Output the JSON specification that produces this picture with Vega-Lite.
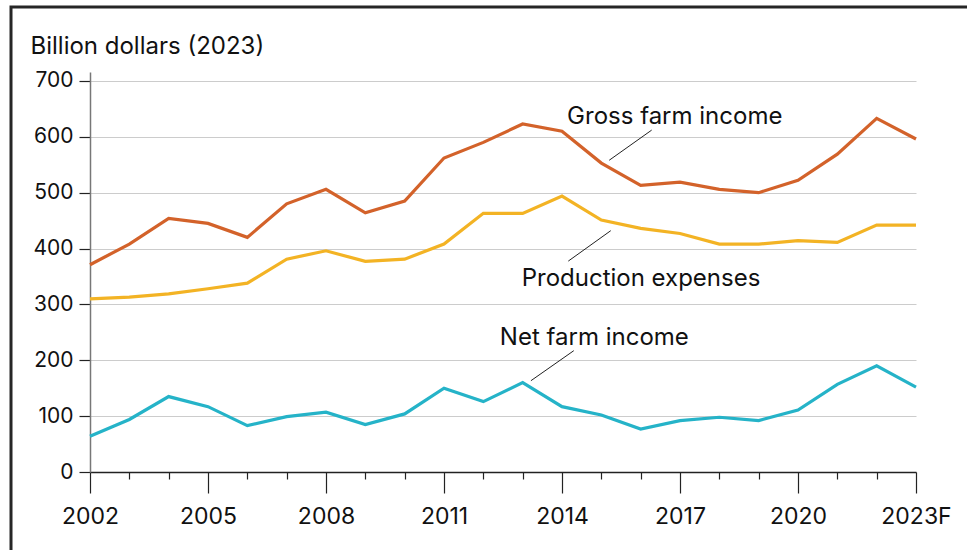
{
  "$schema": "https://vega.github.io/schema/vega-lite/v6.json",
  "width": 960,
  "height": 547,
  "autosize": {"type": "none"},
  "padding": {"left": 11, "top": 7, "right": -4, "bottom": -4},
  "background": "white",
  "config": {
    "view": {"stroke": "#262626", "strokeWidth": 3},
    "font": "Inter"
  },
  "datasets": {
    "series": [
      {"year": 2002, "series": "Gross farm income", "value": 371},
      {"year": 2003, "series": "Gross farm income", "value": 408},
      {"year": 2004, "series": "Gross farm income", "value": 454},
      {"year": 2005, "series": "Gross farm income", "value": 445},
      {"year": 2006, "series": "Gross farm income", "value": 420},
      {"year": 2007, "series": "Gross farm income", "value": 480},
      {"year": 2008, "series": "Gross farm income", "value": 506},
      {"year": 2009, "series": "Gross farm income", "value": 464},
      {"year": 2010, "series": "Gross farm income", "value": 485},
      {"year": 2011, "series": "Gross farm income", "value": 562},
      {"year": 2012, "series": "Gross farm income", "value": 590},
      {"year": 2013, "series": "Gross farm income", "value": 623},
      {"year": 2014, "series": "Gross farm income", "value": 610},
      {"year": 2015, "series": "Gross farm income", "value": 553},
      {"year": 2016, "series": "Gross farm income", "value": 513},
      {"year": 2017, "series": "Gross farm income", "value": 519},
      {"year": 2018, "series": "Gross farm income", "value": 506},
      {"year": 2019, "series": "Gross farm income", "value": 500},
      {"year": 2020, "series": "Gross farm income", "value": 522},
      {"year": 2021, "series": "Gross farm income", "value": 569},
      {"year": 2022, "series": "Gross farm income", "value": 633},
      {"year": 2023, "series": "Gross farm income", "value": 596},
      {"year": 2002, "series": "Production expenses", "value": 310},
      {"year": 2003, "series": "Production expenses", "value": 313},
      {"year": 2004, "series": "Production expenses", "value": 319},
      {"year": 2005, "series": "Production expenses", "value": 328},
      {"year": 2006, "series": "Production expenses", "value": 338},
      {"year": 2007, "series": "Production expenses", "value": 381},
      {"year": 2008, "series": "Production expenses", "value": 396},
      {"year": 2009, "series": "Production expenses", "value": 377},
      {"year": 2010, "series": "Production expenses", "value": 381},
      {"year": 2011, "series": "Production expenses", "value": 408},
      {"year": 2012, "series": "Production expenses", "value": 463},
      {"year": 2013, "series": "Production expenses", "value": 463},
      {"year": 2014, "series": "Production expenses", "value": 494},
      {"year": 2015, "series": "Production expenses", "value": 451},
      {"year": 2016, "series": "Production expenses", "value": 436},
      {"year": 2017, "series": "Production expenses", "value": 427},
      {"year": 2018, "series": "Production expenses", "value": 408},
      {"year": 2019, "series": "Production expenses", "value": 408},
      {"year": 2020, "series": "Production expenses", "value": 414},
      {"year": 2021, "series": "Production expenses", "value": 411},
      {"year": 2022, "series": "Production expenses", "value": 442},
      {"year": 2023, "series": "Production expenses", "value": 442},
      {"year": 2002, "series": "Net farm income", "value": 64},
      {"year": 2003, "series": "Net farm income", "value": 94},
      {"year": 2004, "series": "Net farm income", "value": 135},
      {"year": 2005, "series": "Net farm income", "value": 117},
      {"year": 2006, "series": "Net farm income", "value": 83},
      {"year": 2007, "series": "Net farm income", "value": 99},
      {"year": 2008, "series": "Net farm income", "value": 107},
      {"year": 2009, "series": "Net farm income", "value": 85},
      {"year": 2010, "series": "Net farm income", "value": 104},
      {"year": 2011, "series": "Net farm income", "value": 150},
      {"year": 2012, "series": "Net farm income", "value": 126},
      {"year": 2013, "series": "Net farm income", "value": 160},
      {"year": 2014, "series": "Net farm income", "value": 117},
      {"year": 2015, "series": "Net farm income", "value": 102},
      {"year": 2016, "series": "Net farm income", "value": 77},
      {"year": 2017, "series": "Net farm income", "value": 92},
      {"year": 2018, "series": "Net farm income", "value": 98},
      {"year": 2019, "series": "Net farm income", "value": 92},
      {"year": 2020, "series": "Net farm income", "value": 111},
      {"year": 2021, "series": "Net farm income", "value": 157},
      {"year": 2022, "series": "Net farm income", "value": 190},
      {"year": 2023, "series": "Net farm income", "value": 152}
    ],
    "labels": [
      {"label": "Gross farm income", "year": 2014.13, "value": 623},
      {"label": "Production expenses", "year": 2012.975, "value": 333},
      {"label": "Net farm income", "year": 2012.42, "value": 227.4}
    ],
    "leaders": [
      {"year": 2015.2, "value": 558, "year2": 2016.28, "value2": 612},
      {"year": 2014.16, "value": 377.5, "year2": 2015.24, "value2": 432},
      {"year": 2013.21, "value": 163.4, "year2": 2014.3, "value2": 217.2}
    ]
  },
  "layer": [
    {
      "data": {"name": "series"},
      "mark": {"type": "line", "strokeWidth": 3.2, "strokeJoin": "miter"},
      "encoding": {
        "x": {
          "field": "year",
          "type": "quantitative",
          "title": null,
          "scale": {"domain": [2002, 2023], "range": [79, 905], "nice": false, "zero": false},
          "axis": {
            "values": [2002, 2003, 2004, 2005, 2006, 2007, 2008, 2009, 2010, 2011, 2012, 2013, 2014, 2015, 2016, 2017, 2018, 2019, 2020, 2021, 2022, 2023],
            "format": "d",
            "labelExpr": "(datum.value - 2002) % 3 === 0 ? (datum.value === 2023 ? '2023F' : datum.label) : ''",
            "tickSize": {"condition": {"test": "(datum.value - 2002) % 3 === 0", "value": 21}, "value": 7},
            "offset": -82,
            "grid": false,
            "domainColor": "#222222",
            "domainWidth": 1.5,
            "tickColor": "#222222",
            "tickWidth": 1.2,
            "labelFont": "Inter",
            "labelFontSize": 23,
            "labelColor": "#111111",
            "labelPadding": 12,
            "labelFlush": false,
            "labelOverlap": false
          }
        },
        "y": {
          "field": "value",
          "type": "quantitative",
          "title": "Billion dollars (2023)",
          "scale": {"domain": [0, 716], "range": [465, 65], "nice": false, "zero": false},
          "axis": {
            "values": [0, 100, 200, 300, 400, 500, 600, 700],
            "offset": -79,
            "grid": true,
            "gridColor": "#cccccc",
            "gridWidth": 1,
            "domainColor": "#777777",
            "domainWidth": 1.5,
            "tickColor": "#222222",
            "tickWidth": 1.2,
            "tickSize": 11,
            "labelFont": "Inter",
            "labelFontSize": 21,
            "labelColor": "#111111",
            "labelPadding": 6,
            "titleAngle": 0,
            "titleAlign": "left",
            "titleBaseline": "alphabetic",
            "titleX": -60,
            "titleY": 46,
            "titleFont": "Inter",
            "titleFontSize": 24,
            "titleFontWeight": "normal",
            "titleColor": "#111111"
          }
        },
        "color": {
          "field": "series",
          "type": "nominal",
          "scale": {
            "domain": ["Gross farm income", "Production expenses", "Net farm income"],
            "range": ["#D3622A", "#F3B324", "#25B3C8"]
          },
          "legend": null
        }
      }
    },
    {
      "data": {"name": "leaders"},
      "mark": {"type": "rule", "color": "#222222", "strokeWidth": 1},
      "encoding": {
        "x": {"field": "year", "type": "quantitative"},
        "y": {"field": "value", "type": "quantitative"},
        "x2": {"field": "year2"},
        "y2": {"field": "value2"}
      }
    },
    {
      "data": {"name": "labels"},
      "mark": {"type": "text", "align": "left", "baseline": "alphabetic", "font": "Inter", "fontSize": 24, "color": "#111111"},
      "encoding": {
        "x": {"field": "year", "type": "quantitative"},
        "y": {"field": "value", "type": "quantitative"},
        "text": {"field": "label"}
      }
    }
  ]
}
